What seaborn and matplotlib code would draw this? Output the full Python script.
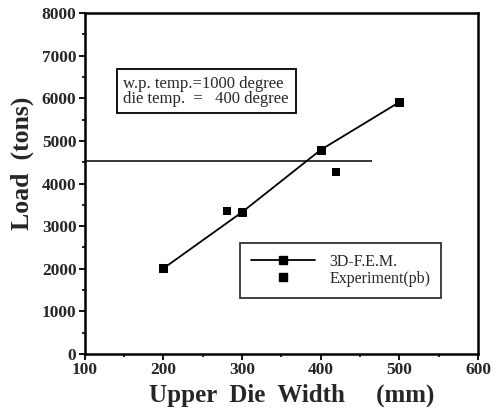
import matplotlib
matplotlib.use("Agg")
import matplotlib.pyplot as plt
import seaborn as sns
import pandas as pd
from matplotlib.lines import Line2D

sns.set_theme(style="white")
plt.rcParams['font.family'] = ['Liberation Serif', 'DejaVu Serif']

# data
fem_width = [200, 300, 400, 500]
fem_load = [2010, 3330, 4790, 5910]
exp_width = [281, 419]
exp_load = [3360, 4270]
ref_load = 4525          # horizontal reference level
ref_end = 465            # where that line stops on the x axis

fem_df = pd.DataFrame({'width': fem_width, 'load': fem_load})
exp_df = pd.DataFrame({'width': exp_width, 'load': exp_load})

fig = plt.figure(figsize=(4.96, 4.18), dpi=100)
ax = fig.add_axes([0.171, 0.153, 0.793, 0.816])

sns.lineplot(data=fem_df, x='width', y='load', ax=ax, color='black', lw=1.3,
             marker='s', markersize=6, markeredgecolor='black', markerfacecolor='black')
sns.scatterplot(data=exp_df, x='width', y='load', ax=ax, color='black',
                marker='s', s=36, edgecolor='black', linewidth=0)
ax.hlines(ref_load, 100, ref_end, color='black', lw=1.1)

ax.set_xlim(100, 600)
ax.set_ylim(0, 8000)
ax.set_xticks(range(100, 601, 100))
ax.set_yticks(range(0, 8001, 1000))
ax.set_xticks(range(150, 600, 100), minor=True)
ax.set_yticks(range(500, 8000, 1000), minor=True)
ax.tick_params(axis='both', which='major', direction='out', length=4, width=1.3,
               labelsize=12.5, color='black', pad=2)
ax.tick_params(axis='both', which='minor', direction='out', length=2.5, width=1.2,
               color='black')
ax.tick_params(left=True, bottom=True, which='both')
for lab in ax.get_xticklabels() + ax.get_yticklabels():
    lab.set_fontweight('bold')
for sp in ax.spines.values():
    sp.set_color('black')
    sp.set_linewidth(1.8)

ax.set_xlabel('Upper  Die  Width     (mm)', fontsize=18, fontweight='bold')
ax.xaxis.set_label_coords(0.525, -0.088)
ax.set_ylabel('Load  (tons)', fontsize=18.5, fontweight='bold')
ax.yaxis.set_label_coords(-0.128, 0.56)

ax.text(0.098, 0.77, 'w.p. temp.=1000 degree\ndie temp.  =   400 degree',
        transform=ax.transAxes, fontsize=12, va='center', ha='left', linespacing=0.9,
        bbox=dict(boxstyle='square,pad=0.4', fc='white', ec='black', lw=1.3))

handles = [
    Line2D([], [], color='black', lw=1.3, marker='s', markersize=6),
    Line2D([], [], color='black', lw=0, marker='s', markersize=6),
]
leg = ax.legend(handles, ['3D-F.E.M.', 'Experiment(pb)'], loc='upper left',
                bbox_to_anchor=(0.394, 0.326), fontsize=11.5, frameon=True,
                fancybox=False, edgecolor='black', handlelength=4.0,
                handletextpad=0.9, borderpad=0.7, labelspacing=0.05,
                borderaxespad=0)
leg.get_frame().set_linewidth(1.3)

fig.savefig('out.png', dpi=100)
